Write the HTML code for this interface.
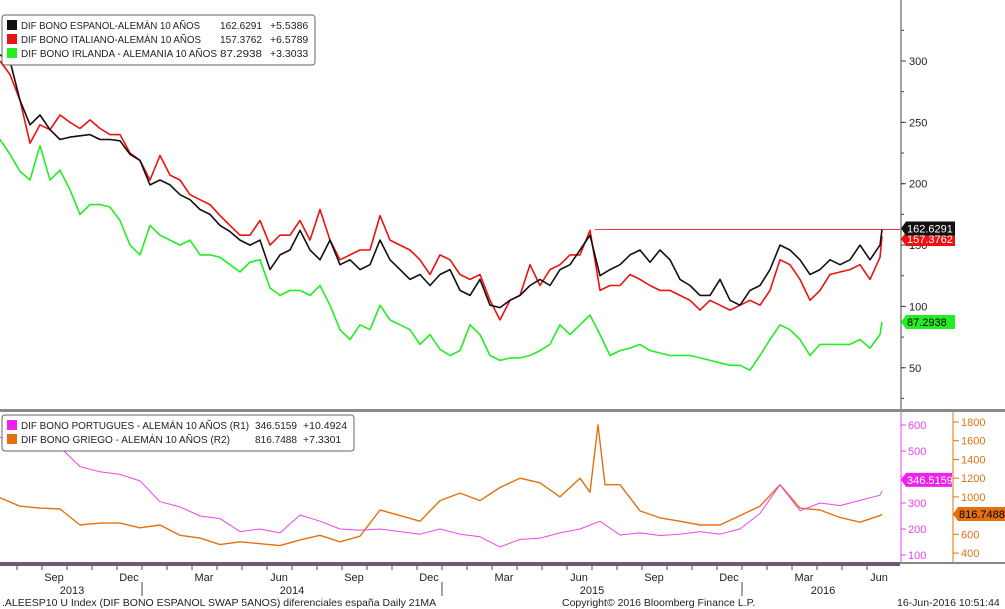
<!DOCTYPE html>
<html><head><meta charset="utf-8">
<style>
body{margin:0;background:#fff;}
svg{display:block;font-family:"Liberation Sans",sans-serif;}
</style></head>
<body>
<svg id="chart" width="1005" height="609" viewBox="0 0 1005 609">
<rect x="0" y="0" width="1005" height="609" fill="#fff"/>
<g id="grid"></g>
<g id="series"></g>
<g id="axes"></g>
<g id="labels"></g>
</svg>
<script>
// ---- data (time in months since 2013-01-01) ----
const topMonths = [5.84,6.24,6.64,7.04,7.44,7.84,8.24,8.64,9.04,9.44,9.84,10.24,10.64,11.04,11.44,11.84,12.24,12.64,13.04,13.44,13.84,14.24,14.64,15.04,15.44,15.84,16.24,16.64,17.04,17.44,17.84,18.24,18.64,19.04,19.44,19.84,20.24,20.64,21.04,21.44,21.84,22.24,22.64,23.04,23.44,23.84,24.24,24.64,25.04,25.44,25.84,26.24,26.64,27.04,27.44,27.84,28.24,28.64,29.04,29.44,29.84,30.24,30.64,31.04,31.44,31.84,32.24,32.64,33.04,33.44,33.84,34.24,34.64,35.04,35.44,35.84,36.24,36.64,37.04,37.44,37.84,38.24,38.64,39.04,39.44,39.84,40.24,40.64,41.04,41.12];
const spainVals = [305,300,268,248,256,244,236,238,239,240,236,236,235,224,219,199,203,199,191,187,179,175,166,161,154,150,154,130,142,146,162,146,138,154,134,138,130,134,154,138,130,122,126,117,126,130,113,109,122,101,99,105,109,117,122,117,130,134,146,158,125,130,134,142,146,136,146,138,122,117,109,109,122,105,101,113,117,130,150,146,138,126,130,138,134,138,150,138,150,162.6291];
const italyVals = [300,289,268,233,248,244,256,250,245,252,245,240,240,225,219,203,223,207,203,191,187,183,174,166,158,158,170,150,158,158,170,154,179,154,138,142,146,146,174,154,150,146,138,126,142,138,126,122,126,105,89,105,109,134,117,130,134,142,142,162,113,117,117,126,122,117,113,113,109,105,97,105,101,97,101,105,101,113,138,134,122,105,113,126,128,130,134,122,140,157.3762];
const irelandVals = [236,224,210,203,231,203,211,195,175,183,183,181,170,150,142,166,158,154,150,154,142,142,140,134,128,136,138,115,109,113,113,109,117,101,81,73,85,81,101,89,85,81,69,77,65,60,64,85,77,60,56,58,58,60,64,69,85,77,85,93,77,60,64,66,69,64,62,60,60,60,58,56,54,52,52,48,60,73,85,81,73,60,69,69,69,69,73,66,77,87.2938];
const portMonths = [5.84,6.64,7.44,8.24,9.04,9.84,10.64,11.44,12.24,13.04,13.84,14.64,15.44,16.24,17.04,17.84,18.64,19.44,20.24,21.04,21.84,22.64,23.44,24.24,25.04,25.84,26.64,27.44,28.24,29.04,29.84,30.64,31.44,32.24,33.04,33.84,34.64,35.44,36.24,37.04,37.84,38.64,39.44,40.24,41.04,41.12];
const portVals = [554,504,520,515,440,420,410,385,305,285,250,240,190,200,185,254,230,200,195,200,190,180,200,180,170,131,160,165,185,200,230,177,185,175,180,190,180,200,260,370,270,300,290,310,330,346.5159];
const greeceMonths = [5.84,6.64,7.44,8.24,9.04,9.84,10.64,11.44,12.24,13.04,13.84,14.64,15.44,16.24,17.04,17.84,18.64,19.44,20.24,21.04,21.84,22.64,23.44,24.24,25.04,25.84,26.64,27.44,28.24,29.04,29.44,29.76,30.04,30.64,31.44,32.24,33.04,33.84,34.64,35.44,36.24,37.04,37.84,38.64,39.44,40.24,41.04,41.12];
const greeceVals = [990,900,880,870,700,720,720,670,700,590,560,490,520,500,480,540,590,520,580,860,800,740,960,1040,960,1100,1200,1150,1000,1200,1050,1770,1130,1130,850,775,740,700,700,800,900,1130,880,860,780,730,800,816.7488];
const topTicks = [50,100,150,200,250,300];
const portTicks = [100,200,300,400,500,600];
const greeceTicks = [400,600,800,1000,1200,1400,1600,1800];
const monthLabels = ["Sep","Dec","Mar","Jun","Sep","Dec","Mar","Jun","Sep","Dec","Mar","Jun"];
const monthLabelPos = [8,11,14,17,20,23,26,29,32,35,38,41];
const yearLabels = ["2013","2014","2015","2016"];
const yearLabelPos = [8.72,17.52,29.52,38.76];
const yearSeps = [11.52,23.52,35.52];

// ---- scales ----
const xS = m => 54 + 25*(m-8);
const yTop = v => 61 + (300-v)*1.227;
const yPort = v => 425 + (600-v)*0.26;
const yGreece = v => 422 + (1800-v)*0.0936;
const NS = "http://www.w3.org/2000/svg";
function mk(tag, attrs, parent){const e=document.createElementNS(NS,tag);for(const k in attrs)e.setAttribute(k,attrs[k]);parent.appendChild(e);return e;}
const G = id => document.getElementById(id);

function line(months, vals, ys, color, name, w){
  let d="";
  for(let i=0;i<vals.length;i++){d+=(i?"L":"M")+xS(months[i]).toFixed(1)+","+ys(vals[i]).toFixed(1);}
  const p=mk("path",{d:d,fill:"none",stroke:color,"stroke-width":w||1.6,"stroke-linejoin":"round"},G("series"));
  
  
}
const refL = mk("line",{x1:595,x2:900,y1:yTop(spainVals[spainVals.length-1]),y2:yTop(spainVals[spainVals.length-1]),stroke:"#e33",'stroke-width':1},G("series"));


line(topMonths, irelandVals, yTop, "#22ee22", "ireland-line");
line(topMonths, italyVals, yTop, "#ee1111", "italy-line");
line(topMonths, spainVals, yTop, "#111111", "spain-line");
line(greeceMonths, greeceVals, yGreece, "#e5700f", "greece-line", 1.4);
line(portMonths, portVals, yPort, "#ee44ee", "portugal-line", 1);

// ---- axes ----
const ax = G("axes");
function T(txt,x,y,opt,parent,name){const t=mk("text",Object.assign({x:x,y:y,"font-size":11,fill:"#222"},opt||{}),parent||G("labels"));t.textContent=txt;return t;}
mk("line",{x1:901,x2:901,y1:0,y2:410,stroke:"#444","stroke-width":1},ax);
mk("rect",{x:0,y:409,width:1005,height:3,fill:"#8a8a8a"},ax);
mk("line",{x1:901,x2:901,y1:412,y2:563,stroke:"#ee44ee","stroke-width":1},ax);
mk("line",{x1:953,x2:953,y1:412,y2:563,stroke:"#e5700f","stroke-width":1},ax);
mk("rect",{x:0,y:562,width:900,height:4,fill:"#6a5a78"},ax);
mk("rect",{x:900,y:562,width:105,height:2,fill:"#888"},ax);
topTicks.forEach(v=>{const y=yTop(v);mk("line",{x1:901,x2:906,y1:y,y2:y,stroke:"#444"},ax);T(String(v),909,y+4,{},null,"y-tick-label");});
for(let v=25;v<=325;v+=25){const y=yTop(v);if(y>5&&y<405)mk("line",{x1:901,x2:904,y1:y,y2:y,stroke:"#444"},ax);}
portTicks.forEach(v=>{const y=yPort(v);mk("line",{x1:901,x2:906,y1:y,y2:y,stroke:"#ee44ee"},ax);T(String(v),908,y+4,{fill:"#ee44ee"},null,"r1-tick-label");});
greeceTicks.forEach(v=>{const y=yGreece(v);mk("line",{x1:953,x2:959,y1:y,y2:y,stroke:"#e5700f"},ax);T(String(v),961,y+4,{fill:"#e5700f"},null,"r2-tick-label");});
for(let m=6;m<=41;m++){const x=xS(m)-12;mk("line",{x1:x,x2:x,y1:566,y2:570,stroke:"#444"},ax);}
monthLabels.forEach((s,i)=>T(s,xS(monthLabelPos[i]),581,{"text-anchor":"middle"},null,"x-month-label"));
yearLabels.forEach((s,i)=>T(s,xS(yearLabelPos[i]),594,{"text-anchor":"middle"},null,"x-year-label"));
yearSeps.forEach(m=>{const x=xS(m);mk("line",{x1:x,x2:x,y1:582,y2:596,stroke:"#444"},ax);});

// value tags
function tag(x,y,w,txt,bg,fg,name){const g=mk("g",{},G("labels"));
 mk("path",{d:`M${x},${y} L${x+5},${y-7} L${x+w},${y-7} L${x+w},${y+7} L${x+5},${y+7} Z`,fill:bg},g);
 const t=mk("text",{x:x+6,y:y+4,"font-size":11,fill:fg},g);t.textContent=txt;}
tag(901,yTop(157.3762)+3,54,"157.3762","#ee1111","#fff","italy-value-tag");
tag(901,yTop(162.6291)-1,54,"162.6291","#111","#fff","spain-value-tag");
tag(901,yTop(87.2938),54,"87.2938","#22ee22","#000","ireland-value-tag");
tag(901,yPort(346.5159)-11,51,"346.5159","#ee22ee","#fff","portugal-value-tag");
tag(953,yGreece(816.7488),52,"816.7488","#e5700f","#000","greece-value-tag");

// legends
function legend(x,y,w,rows,name){const g=mk("g",{},G("labels"));
 mk("rect",{x:x,y:y,width:w,height:rows.length*14+8,rx:3,fill:"#fff",stroke:"#666"},g);
 rows.forEach((r,i)=>{const yy=y+5+i*14;mk("rect",{x:x+5,y:yy,width:10,height:10,fill:r[0]},g);
  const t=mk("text",{x:x+19,y:yy+9,"font-size":10.5,fill:"#222",textLength:r[6],lengthAdjust:"spacingAndGlyphs"},g);t.textContent=r[1];
  const t2=mk("text",{x:x+r[4],y:yy+9,"font-size":10.5,fill:"#222",textLength:42,lengthAdjust:"spacingAndGlyphs"},g);t2.textContent=r[2];
  const t3=mk("text",{x:x+r[5],y:yy+9,"font-size":10.5,fill:"#222"},g);t3.textContent=r[3];});}
legend(2,15,313,[["#111","DIF BONO ESPANOL-ALEMÁN 10 AÑOS","162.6291","+5.5386",218,268,179],["#ee1111","DIF BONO ITALIANO-ALEMÁN 10 AÑOS","157.3762","+6.5789",218,268,180],["#22ee22","DIF BONO IRLANDA - ALEMANIA 10 AÑOS","87.2938","+3.3033",218,268,196]],"top-legend");
legend(2,415,352,[["#ee22ee","DIF BONO PORTUGUES - ALEMÁN 10 AÑOS (R1)","346.5159","+10.4924",253,301,228],["#e5700f","DIF BONO GRIEGO - ALEMÁN 10 AÑOS (R2)","816.7488","+7.3301",253,301,209]],"bottom-legend");

T(".ALEESP10 U Index (DIF BONO ESPANOL SWAP 5ANOS) diferenciales españa  Daily 21MA",2,606,{"font-size":10.5},null,"footer-title");
T("Copyright© 2016 Bloomberg Finance L.P.",562,606,{"font-size":10.5},null,"footer-copyright");
T("16-Jun-2016 10:51:44",897,606,{"font-size":10.5},null,"footer-timestamp");
</script>
</body></html>
